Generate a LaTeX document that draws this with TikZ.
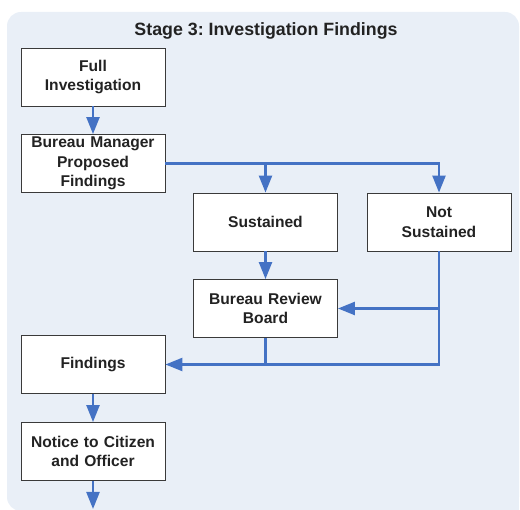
\documentclass[tikz,border=0pt]{standalone}
\usepackage{fontspec}
\setmainfont{Liberation Sans}
\usetikzlibrary{arrows.meta}
\frenchspacing
\definecolor{bgblue}{HTML}{E9EFF7}
\definecolor{lineblue}{HTML}{4472C4}
\definecolor{boxedge}{HTML}{3A3A3A}
\definecolor{txt}{HTML}{222222}
\tikzset{
  stepbox/.style={draw=boxedge, line width=0.9pt, fill=white, minimum width=144pt, minimum height=58pt,
    text width=140pt, align=center, inner sep=0pt, text=txt,
    font=\fontsize{15.6}{19.5}\selectfont\bfseries},
  conn/.style={draw=lineblue, line width=2.4pt},
  arr/.style={conn, -{Triangle[length=17pt,width=13pt]}}
}
\begin{document}
\begin{tikzpicture}[x=1pt,y=-1pt]
\useasboundingbox (0,0) rectangle (520,510);
\fill[bgblue, rounded corners=14pt] (7,12) rectangle (519,511);
\fill[bgblue] (470,470) rectangle (519,511);
\node[text=txt, font=\fontsize{17.8}{20}\selectfont\bfseries] (title) at (266,31) {Stage 3: Investigation Findings};
\node[stepbox] (full) at (93,77) {Full\\Investigation};
\node[stepbox] (bmpf) at (93,163.5) {Bureau Manager\\Proposed\\Findings};
\node[stepbox] (sus) at (265.5,222) {Sustained};
\node[stepbox] (nots) at (439,222) {Not\\Sustained};
\node[stepbox] (brb) at (265.5,308.5) {Bureau Review\\Board};
\node[stepbox] (find) at (93,364.5) {Findings};
\node[stepbox] (notice) at (93,451.5) {Notice to Citizen\\and Officer};
\coordinate (out) at (93,509);
\draw[arr] (full) -- (bmpf);
\draw[arr] (bmpf.east) -| (nots.north);
\draw[arr] (sus.north |- bmpf.east) -- (sus.north);
\draw[arr] (sus) -- (brb);
\draw[arr] (nots.south) |- (find.east);
\draw[arr] (nots.south |- brb.east) -- (brb.east);
\draw[conn] (brb.south) -- (brb.south |- find.east);
\draw[arr] (find) -- (notice);
\draw[arr] (notice) -- (out);
\end{tikzpicture}
\end{document}
